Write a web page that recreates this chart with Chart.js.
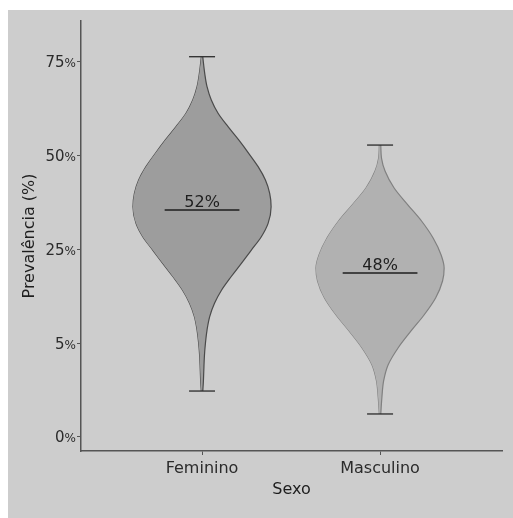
<!DOCTYPE html>
<html><head><meta charset="utf-8">
<script src="https://cdn.jsdelivr.net/npm/chart.js@4"></script>
<style>
html,body{margin:0;padding:0;background:#fff;}
#wrap{position:absolute;left:8px;top:10px;width:505px;height:508px;background:#cdcdcd;}
canvas{display:block}
</style>
</head><body>
<div id="wrap"><canvas id="c" width="505" height="508"></canvas></div>
<script>
const categories = ['Feminino', 'Masculino'];
const yTickValues = [0, 1, 2, 3, 4];
const yTickLabels = ['0%', '5%', '25%', '50%', '75%'];

// violin outline: levels (y axis units) and half widths (x axis units)
const femLevels = [4.046,3.869,3.727,3.585,3.444,3.301,3.160,3.018,2.876,2.734,2.593,2.450,2.273,2.131,1.989,1.848,1.705,1.564,1.422,1.280,1.138,0.997,0.854,0.713,0.571,0.489];
const femHalfWidth = [0.004,0.015,0.028,0.052,0.090,0.146,0.206,0.262,0.315,0.356,0.380,0.388,0.371,0.333,0.277,0.221,0.163,0.110,0.070,0.043,0.028,0.019,0.013,0.010,0.007,0.004];
const mascLevels = [3.106,2.968,2.830,2.649,2.468,2.298,2.117,1.936,1.798,1.660,1.479,1.298,1.128,0.947,0.766,0.596,0.415,0.245];
const mascHalfWidth = [0.004,0.008,0.028,0.079,0.157,0.233,0.298,0.343,0.360,0.351,0.312,0.247,0.174,0.101,0.045,0.020,0.010,0.004];

const whiskerTop = [4.046, 3.106];
const whiskerBottom = [0.489, 0.245];
const medians = [2.415, 1.745];
const medianLabels = ['52%', '48%'];

const capHalf = 0.073;
const medianHalf = 0.21;
const fills = ['#9d9d9d', '#b1b1b1'];
const strokes = ['#4a4a4a', '#808080'];
const FONT = '"DejaVu Sans", sans-serif';

function seg(points, color, width) {
  return {data: points, borderColor: color, borderWidth: width, fill: false, pointRadius: 0, tension: 0};
}
const markSets = [];
const violinSets = [];
[[femLevels, femHalfWidth], [mascLevels, mascHalfWidth]].forEach(([lv, hw], i) => {
  const c = i + 1;
  markSets.push(seg([{x: c - medianHalf, y: medians[i]}, {x: c + medianHalf, y: medians[i]}], '#1e1e1e', 1.3));
  markSets.push(seg([{x: c - capHalf, y: whiskerTop[i]}, {x: c + capHalf, y: whiskerTop[i]}], '#2a2a2a', 1.3));
  markSets.push(seg([{x: c - capHalf, y: whiskerBottom[i]}, {x: c + capHalf, y: whiskerBottom[i]}], '#2a2a2a', 1.3));
  violinSets.push({data: lv.map((y, k) => ({x: c + hw[k], y})), borderColor: strokes[i], borderWidth: 1.2,
    backgroundColor: fills[i], fill: '+1', cubicInterpolationMode: 'monotone', pointRadius: 0});
  violinSets.push({data: lv.map((y, k) => ({x: c - hw[k], y})), borderColor: strokes[i], borderWidth: 1.2,
    fill: false, cubicInterpolationMode: 'monotone', pointRadius: 0});
});

const textPlugin = {
  id: 'texts',
  afterDraw(chart) {
    const {ctx, chartArea, scales: {x, y}} = chart;
    ctx.save();
    ctx.fillStyle = '#2b2b2b';
    ctx.textBaseline = 'alphabetic';
    yTickValues.forEach((v, i) => {
      const lab = yTickLabels[i];
      const num = lab.replace('%', '');
      const py = y.getPixelForValue(v) + 5.5;
      const rx = chartArea.left - 5;
      ctx.textAlign = 'right';
      ctx.font = '12px ' + FONT;
      ctx.fillText('%', rx, py);
      const pw = ctx.measureText('%').width;
      ctx.font = '15px ' + FONT;
      ctx.fillText(num, rx - pw, py);
    });
    ctx.fillStyle = '#1e1e1e';
    ctx.font = '16px ' + FONT;
    ctx.textAlign = 'center';
    medians.forEach((m, i) => {
      ctx.fillText(medianLabels[i], x.getPixelForValue(i + 1), y.getPixelForValue(m) - 3);
    });
    ctx.fillText('Sexo', (chartArea.left + chartArea.right) / 2, chartArea.bottom + 43);
    ctx.translate(chartArea.left - 51, (chartArea.top + chartArea.bottom) / 2);
    ctx.rotate(-Math.PI / 2);
    ctx.textBaseline = 'middle';
    ctx.fillText('Prevalência (%)', 0, 0);
    ctx.restore();
  }
};

new Chart(document.getElementById('c'), {
  type: 'line',
  data: {datasets: markSets.concat(violinSets)},
  options: {
    responsive: false,
    animation: false,
    indexAxis: 'y',
    layout: {padding: {top: 11, right: 11, left: 0, bottom: 0}},
    plugins: {legend: {display: false}, tooltip: {enabled: false}},
    scales: {
      x: {
        type: 'linear', min: 0.32, max: 2.685,
        afterFit: s => { s.height = 67; },
        afterBuildTicks: s => { s.ticks = categories.map((c, i) => ({value: i + 1})); },
        grid: {display: true, drawOnChartArea: false, drawTicks: true, tickLength: 4, color: '#555'},
        border: {display: true, color: '#555', width: 1.5},
        ticks: {font: {size: 16, family: FONT}, color: '#2b2b2b', padding: 4,
          callback: v => categories[Math.round(v) - 1] || ''}
      },
      y: {
        type: 'linear', min: -0.149, max: 4.426,
        afterFit: s => { s.width = 73; },
        afterBuildTicks: s => { s.ticks = yTickValues.map(v => ({value: v})); },
        grid: {display: true, drawOnChartArea: false, drawTicks: true, tickLength: 4, color: '#555'},
        border: {display: true, color: '#555', width: 1.5},
        ticks: {display: false}
      }
    }
  },
  plugins: [textPlugin]
});
</script>
</body></html>
